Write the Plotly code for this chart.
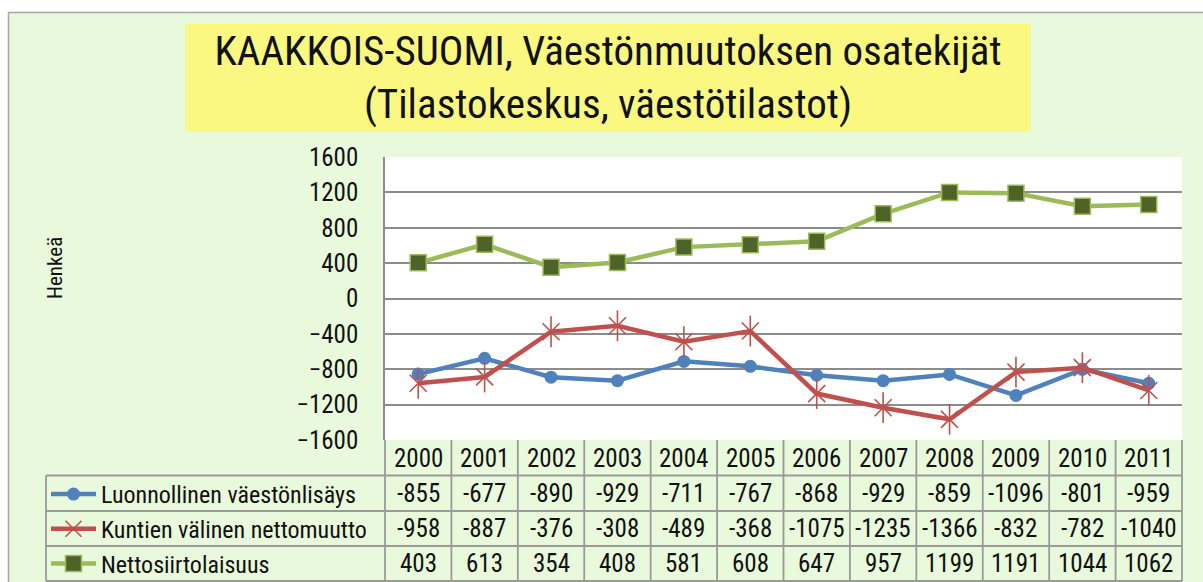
import plotly.graph_objects as go

years = ["2000", "2001", "2002", "2003", "2004", "2005", "2006", "2007", "2008", "2009", "2010", "2011"]
luonnollinen = [-855, -677, -890, -929, -711, -767, -868, -929, -859, -1096, -801, -959]
kuntien = [-958, -887, -376, -308, -489, -368, -1075, -1235, -1366, -832, -782, -1040]
netto = [403, 613, 354, 408, 581, 608, 647, 957, 1199, 1191, 1044, 1062]
series_names = ["Luonnollinen väestönlisäys", "Kuntien välinen nettomuutto", "Nettosiirtolaisuus"]
y_ticks = [-1600, -1200, -800, -400, 0, 400, 800, 1200, 1600]

W, H = 1203, 582
L, R, T, B = 385, 1182, 157, 440          # plot area in pixels
FONT = "Roboto Condensed, Arial Narrow, sans-serif"
BG = "#E9F9DB"
GRID = "#8C8C8C"
TBL = "#9A9A9A"

def px(xp):
    return (xp - L) / (R - L)

def py(yp):
    return (B - yp) / (B - T)

x = list(range(len(years)))
fig = go.Figure()

fig.add_trace(go.Scatter(
    x=x, y=luonnollinen, name=series_names[0], mode="lines+markers", legendgroup="a",
    line=dict(color="#4F81BD", width=4.5),
    marker=dict(symbol="circle", size=13, color="#4F81BD"),
))
fig.add_trace(go.Scatter(
    x=x, y=kuntien, name=series_names[1], mode="lines+markers", legendgroup="b",
    line=dict(color="#C0504D", width=4.5),
    marker=dict(symbol="x-thin-open", size=17, color="#C0504D", line=dict(color="#C0504D", width=1.6)),
))
fig.add_trace(go.Scatter(
    x=x, y=kuntien, mode="markers", showlegend=False, legendgroup="b", hoverinfo="skip",
    marker=dict(symbol="line-ns-open", size=22, color="#C0504D", line=dict(color="#C0504D", width=1.6)),
))
fig.add_trace(go.Scatter(
    x=x, y=netto, name=series_names[2], mode="lines+markers", legendgroup="c",
    line=dict(color="#9BBB59", width=4.5),
    marker=dict(symbol="square", size=16, color="#4F6228", line=dict(color="#9BBB59", width=1.5)),
))

shapes = []
# white strips outside chart border + chart border
shapes.append(dict(type="rect", xref="paper", yref="paper", x0=px(-5), x1=px(W + 5), y0=py(-5), y1=py(12),
                   fillcolor="white", line=dict(width=0), layer="below"))
shapes.append(dict(type="rect", xref="paper", yref="paper", x0=px(-5), x1=px(8), y0=py(-5), y1=py(H + 5),
                   fillcolor="white", line=dict(width=0), layer="below"))
shapes.append(dict(type="rect", xref="paper", yref="paper", x0=px(8.5), x1=px(W + 20), y0=py(12.5), y1=py(H + 20),
                   fillcolor="rgba(0,0,0,0)", line=dict(color="#A6A6A6", width=1.5), layer="below"))

# table grid
row_lines = [475.5, 511, 546, 581]
for ry in row_lines:
    shapes.append(dict(type="line", xref="paper", yref="paper", x0=px(46), x1=px(R), y0=py(ry), y1=py(ry),
                       line=dict(color=TBL, width=1.8)))
shapes.append(dict(type="line", xref="paper", yref="paper", x0=px(46), x1=px(46), y0=py(475.5), y1=py(581),
                   line=dict(color=TBL, width=1.8)))
for xp_ in (0, 1):
    shapes.append(dict(type="line", xref="paper", yref="paper", x0=xp_, x1=xp_, y0=py(B), y1=py(581),
                       line=dict(color=TBL, width=1.8)))
for i in range(len(years) - 1):
    shapes.append(dict(type="line", xref="x", yref="paper", x0=i + 0.5, x1=i + 0.5, y0=py(B), y1=py(581),
                       line=dict(color=TBL, width=1.8)))

annotations = []
# title
annotations.append(dict(
    xref="paper", yref="paper", x=px(608), y=py(77.5), xanchor="center", yanchor="middle",
    text="KAAKKOIS-SUOMI, Väestönmuutoksen osatekijät<br>(Tilastokeskus, väestötilastot)",
    showarrow=False, bgcolor="#FAF880", width=844, height=107, borderpad=0,
    font=dict(family=FONT, size=41, color="#111111"), align="center",
))
# y title
annotations.append(dict(
    xref="paper", yref="paper", x=px(55), y=py(268), text="Henkeä", textangle=-90, showarrow=False,
    font=dict(family=FONT, size=21, color="#111111"), xanchor="center", yanchor="middle",
))
# table contents
row_centers = [458, 493, 528, 563]
rows = [years, luonnollinen, kuntien, netto]
for r, vals in enumerate(rows):
    for i, v in enumerate(vals):
        annotations.append(dict(
            xref="x", yref="paper", x=i, y=py(row_centers[r]), text=str(v), showarrow=False,
            xanchor="center", yanchor="middle", font=dict(family=FONT, size=25, color="#111111"),
        ))

fig.update_layout(
    width=W, height=H, autosize=False,
    margin=dict(l=L, r=W - R, t=T, b=H - B, pad=0, autoexpand=False),
    paper_bgcolor=BG, plot_bgcolor="white",
    font=dict(family=FONT, color="#111111"),
    shapes=shapes, annotations=annotations,
    showlegend=True,
    legend=dict(
        x=px(46), y=py(472), xanchor="left", yanchor="top",
        orientation="v", bgcolor="rgba(0,0,0,0)", borderwidth=0,
        font=dict(family=FONT, size=24, color="#111111"),
        itemwidth=45, tracegroupgap=0.5,
    ),
    xaxis=dict(range=[-0.5, len(years) - 0.5], showticklabels=False, showgrid=False, zeroline=False,
               ticks="", showline=False, fixedrange=True, automargin=False),
    yaxis=dict(range=[y_ticks[0], y_ticks[-1]], tickvals=y_ticks, showgrid=True, gridcolor=GRID, gridwidth=1.5,
               zeroline=False, showline=True, linecolor=GRID, linewidth=1.5, ticks="", automargin=False,
               ticklabelstandoff=20, tickfont=dict(family=FONT, size=25, color="#111111"), fixedrange=True),
)

fig.write_html("out.html", config={"displayModeBar": False, "responsive": False},
               post_script="document.body.style.margin='0';")
